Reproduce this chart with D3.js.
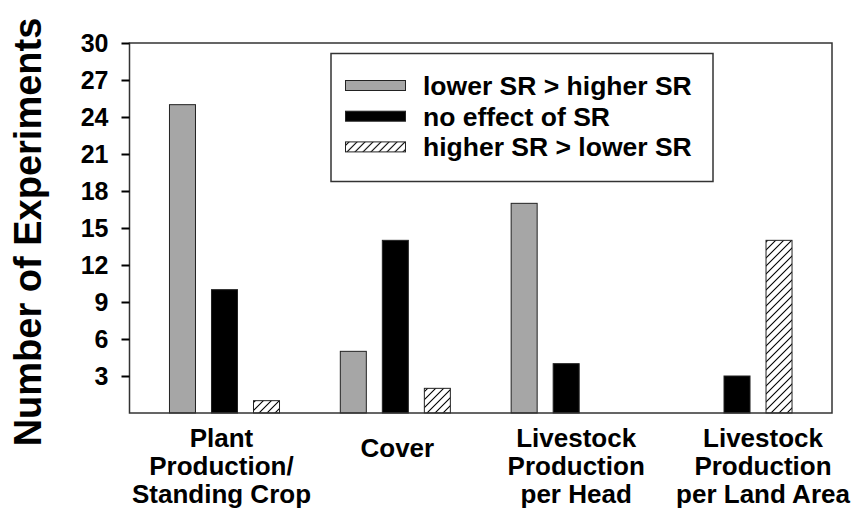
<!DOCTYPE html>
<html lang="en">
<head>
<meta charset="utf-8">
<title>Stocking rate experiments</title>
<script src="https://d3js.org/d3.v7.min.js"></script>
<style>
  body { margin: 0; background: #fff; }
  svg text { font-family: "Liberation Sans", Arial, Helvetica, sans-serif; font-weight: bold; fill: #000; }
</style>
</head>
<body>
<div id="chart"></div>
<script>

// data
var categories = ["Plant Production/ Standing Crop", "Cover", "Livestock Production per Head", "Livestock Production per Land Area"];
var categoryLines = [
  ["Plant", "Production/", "Standing Crop"],
  ["Cover"],
  ["Livestock", "Production", "per Head"],
  ["Livestock", "Production", "per Land Area"]
];
var series = ["lower SR > higher SR", "no effect of SR", "higher SR > lower SR"];
var lowerBetter  = [25, 5, 17, 0];
var noEffect     = [10, 14, 4, 3];
var higherBetter = [1, 2, 0, 14];
var yTicks = [3, 6, 9, 12, 15, 18, 21, 24, 27, 30];

var values = [lowerBetter, noEffect, higherBetter];

// layout
var W = 853, H = 511;
var plot = {left: 129.5, right: 832, top: 43, bottom: 413};
// small horizontal nudges of the category labels, as in the original
var labelNudge = [-3, 2, 10, 26];

var svg = d3.select("#chart").append("svg")
    .attr("width", W)
    .attr("height", H);

// hatch pattern
var defs = svg.append("defs");
defs.append("pattern")
    .attr("id", "hatch")
    .attr("patternUnits", "userSpaceOnUse")
    .attr("width", 8)
    .attr("height", 8)
  .append("path")
    .attr("d", "M-2,2 L2,-2 M0,8 L8,0 M6,10 L10,6")
    .attr("stroke", "#000")
    .attr("stroke-width", 1.1);

var fills = ["#a6a6a6", "#000000", "url(#hatch)"];

// scales
var x0 = d3.scaleBand()
    .domain(categories)
    .range([plot.left, plot.right])
    .paddingOuter(0.056);

var x1 = d3.scaleBand()
    .domain(series)
    .range([-63, 63])
    .paddingInner(0.381)
    .paddingOuter(0.19);

var y = d3.scaleLinear()
    .domain([0, 30])
    .range([plot.bottom, plot.top]);

// bars
series.forEach(function(s, si) {
  svg.append("g")
    .selectAll("rect")
    .data(values[si].map(function(v, i) { return {cat: categories[i], v: v}; }).filter(function(d) { return d.v > 0; }))
    .enter()
    .append("rect")
      .attr("x", function(d) { return x0(d.cat) + x0.bandwidth() / 2 + x1(s); })
      .attr("width", x1.bandwidth())
      .attr("y", function(d) { return y(d.v); })
      .attr("height", function(d) { return y(0) - y(d.v); })
      .attr("fill", fills[si])
      .attr("stroke", "#222")
      .attr("stroke-width", 1);
});

// frame
svg.append("rect")
    .attr("x", plot.left)
    .attr("y", plot.top)
    .attr("width", plot.right - plot.left)
    .attr("height", plot.bottom - plot.top)
    .attr("fill", "none")
    .attr("stroke", "#333")
    .attr("stroke-width", 1.5);

// y axis
var yAxis = svg.append("g")
    .attr("transform", "translate(" + plot.left + ",0)")
    .call(d3.axisLeft(y).tickValues(yTicks).tickSize(8).tickPadding(13));
yAxis.select(".domain").remove();
yAxis.selectAll(".tick line").attr("stroke", "#000").attr("stroke-width", 2);
yAxis.selectAll(".tick text")
    .style("font-size", "25px")
    .attr("font-family", null);

// y axis title
svg.append("text")
    .attr("transform", "translate(41," + 232 + ") rotate(-90)")
    .attr("text-anchor", "middle")
    .style("font-size", "38px")
    .text("Number of Experiments");

// category labels
var lineH = 28;
categories.forEach(function(c, i) {
  var lines = categoryLines[i];
  var cx = x0(c) + x0.bandwidth() / 2 + labelNudge[i];
  var firstBase = lines.length === 1 ? 457 : 447;
  var t = svg.append("text")
      .attr("text-anchor", "middle")
      .style("font-size", "26px");
  lines.forEach(function(l, k) {
    t.append("tspan")
      .attr("x", cx)
      .attr("y", firstBase + k * lineH)
      .text(l);
  });
});

// legend
var legend = svg.append("g");
legend.append("rect")
    .attr("x", 331)
    .attr("y", 53.5)
    .attr("width", 382)
    .attr("height", 128)
    .attr("fill", "#fff")
    .attr("stroke", "#333")
    .attr("stroke-width", 1.5);

var rows = legend.selectAll("g.row")
    .data(series)
    .enter()
    .append("g")
      .attr("class", "row")
      .attr("transform", function(d, i) { return "translate(0," + (85.5 + i * 30.7) + ")"; });

rows.append("rect")
    .attr("x", 345.5)
    .attr("y", -5)
    .attr("width", 60)
    .attr("height", 10)
    .attr("fill", function(d, i) { return fills[i]; })
    .attr("stroke", "#222")
    .attr("stroke-width", 1);

rows.append("text")
    .attr("x", 423)
    .attr("y", 9.5)
    .style("font-size", "26.5px")
    .text(function(d) { return d; });

</script>
</body>
</html>
